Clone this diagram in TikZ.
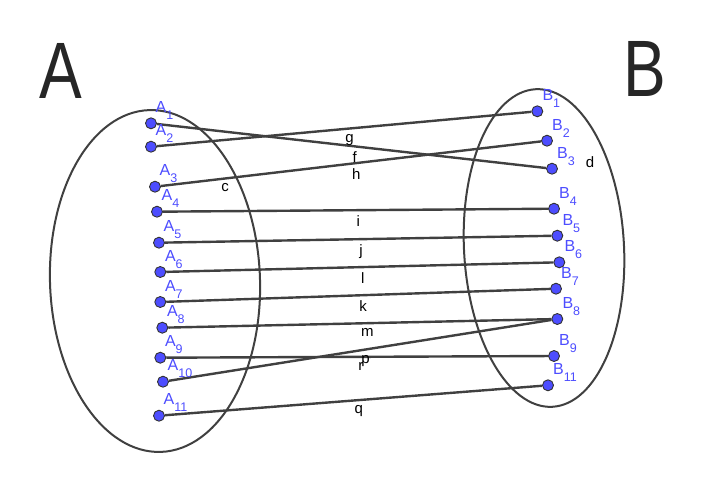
\documentclass[tikz,border=0pt]{standalone}
\usepackage{fontspec}
\setmainfont{Liberation Sans}
\usepackage{xcolor}
\definecolor{ggbblue}{RGB}{77,77,255}
\definecolor{ggbdark}{RGB}{64,64,64}
\usepackage{tikz}
\usetikzlibrary{backgrounds}
\newcommand{\ptsub}[1]{\raisebox{-7pt}{\fontsize{12.5}{12.5}\selectfont #1}}
\tikzset{
  setline/.style={draw=ggbdark, line width=2pt},
  seg/.style={draw=ggbdark, line width=2.4pt},
  dot/.style={circle, draw=black!80, line width=0.9pt, fill=ggbblue,
              minimum size=11pt, inner sep=0pt},
  ptlbl/.style={anchor=base west, inner sep=0pt, text=ggbblue,
                font=\fontsize{16}{16}\selectfont},
  seglbl/.style={anchor=north west, inner sep=0pt, yshift=-4pt,
                 font=\fontsize{15}{15}\selectfont},
  setlbl/.style={font=\fontsize{15}{15}\selectfont},
  bigname/.style={font=\fontsize{80}{80}\selectfont, text=black!85, inner sep=0pt},
}

\begin{document}
\begin{tikzpicture}[x=1pt, y=-1pt]
  \useasboundingbox (0,0) rectangle (706,496);

  % names of the sets
  \node[bigname] (nameA) at (61,71) {\scalebox{0.8}[1]{A}};
  \node[bigname] (nameB) at (645,69) {\scalebox{0.8}[1]{B}};

  % points of A
  \foreach \n/\x/\y in {1/151/123.3, 2/151/146.7, 3/155/186.7, 4/157/211.7,
      5/159/242.7, 6/160.3/272, 7/160.3/302, 8/162.3/327.7, 9/160.3/357.7,
      10/163/381.7, 11/159/415.7}{
    \node[dot] (A\n) at (\x,\y) {};
    \node[ptlbl] (lA\n) at ({\x+4.5},{\y-11}) {A\ptsub{\n}};
  }

  % points of B
  \foreach \n/\x/\y in {1/537.3/111.3, 2/547/140.7, 3/552/168.7, 4/554/208.7,
      5/557.3/235.7, 6/559.3/262.3, 7/556/288.7, 8/557.3/319, 9/554/356,
      11/548/385.3}{
    \node[dot] (B\n) at (\x,\y) {};
    \node[ptlbl] (lB\n) at ({\x+5},{\y-10.6}) {B\ptsub{\n}};
  }

  \begin{scope}[on background layer]
    % the two sets
    \draw[setline, rotate around={2:(155,281)}] (155,281) ellipse [x radius=105, y radius=171];
    \draw[setline, rotate around={3:(544,248)}] (544,248) ellipse [x radius=80, y radius=159];

    % segments
    \foreach \a/\b/\lbl in {1/3/f, 2/1/g, 3/2/h, 4/4/i, 5/5/j, 6/6/l, 7/7/k,
        8/8/m, 9/9/r, 10/8/p, 11/11/q}{
      \draw[seg] (A\a) -- node[seglbl] (s\lbl) {\lbl} (B\b);
    }
  \end{scope}

  \node[setlbl] (lblc) at (225,188) {c};
  \node[setlbl] (lbld) at (590,162) {d};
\end{tikzpicture}
\end{document}
